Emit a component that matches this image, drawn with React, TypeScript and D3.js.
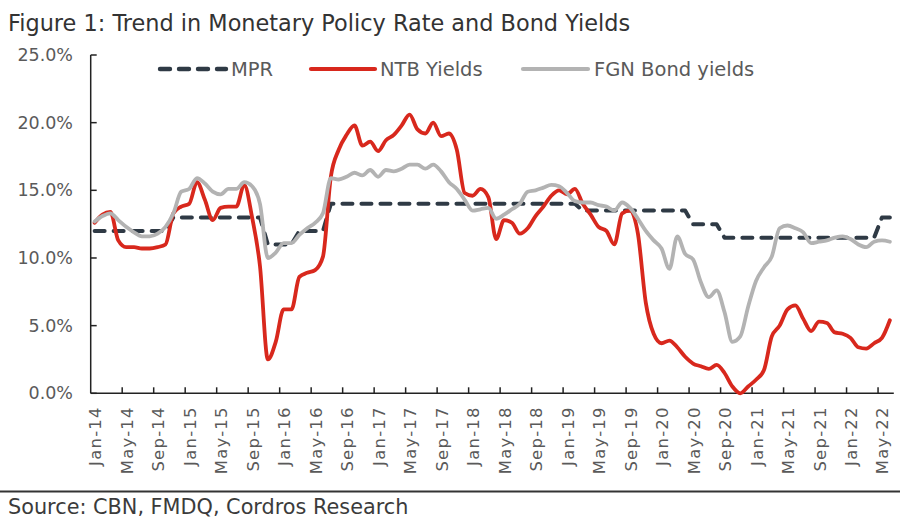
import React from "react";
import * as d3 from "d3";

// monthly observations, Jan-14 .. Jun-22
const months = d3.timeMonth.range(new Date(2014, 0, 1), new Date(2022, 6, 1));

const mpr = [
  12, 12, 12, 12, 12, 12, 12, 12, 12, 12,
  13, 13, 13, 13, 13, 13, 13, 13, 13, 13, 13, 13,
  11, 11, 11, 11,
  12, 12, 12, 12,
  14, 14, 14, 14, 14, 14, 14, 14, 14, 14, 14, 14, 14, 14, 14, 14,
  14, 14, 14, 14, 14, 14, 14, 14, 14, 14, 14, 14, 14, 14, 14, 14,
  13.5, 13.5, 13.5, 13.5, 13.5, 13.5, 13.5, 13.5, 13.5, 13.5, 13.5, 13.5, 13.5, 13.5,
  12.5, 12.5, 12.5, 12.5,
  11.5, 11.5, 11.5, 11.5, 11.5, 11.5, 11.5, 11.5, 11.5, 11.5,
  11.5, 11.5, 11.5, 11.5, 11.5, 11.5, 11.5, 11.5, 11.5, 11.5,
  13, 13,
];

const ntb = [
  12.6, 13.2, 13.4, 11.3, 10.8, 10.8, 10.7, 10.7, 10.8, 11.0,
  13.3, 13.8, 14.0, 15.6, 14.3, 12.8, 13.7, 13.8, 13.8, 15.4,
  13.0, 9.4, 2.5, 3.8, 6.2, 6.2, 8.6, 8.9, 9.1, 10.1,
  16.0, 18.0, 19.1, 19.8, 18.3, 18.6, 17.9, 18.7, 19.1, 19.8,
  20.6, 19.5, 19.2, 20.0, 19.0, 19.2, 18.0, 14.8, 14.6, 15.1,
  14.5, 11.4, 12.8, 12.6, 11.8, 12.2, 13.1, 13.8, 14.6, 15.0,
  14.7, 15.1, 14.0, 13.2, 12.3, 12.0, 11.0, 13.3, 13.5, 11.8,
  6.7, 4.4, 3.7, 3.9, 3.4, 2.7, 2.2, 2.0, 1.8, 2.1,
  1.5, 0.5, 0.0, 0.5, 1.0, 1.7, 4.2, 5.0, 6.2, 6.5,
  5.5, 4.6, 5.3, 5.2, 4.5, 4.4, 4.1, 3.4, 3.3, 3.7,
  4.1, 5.4,
];

const fgn = [
  12.7, 13.1, 13.3, 12.8, 12.3, 11.9, 11.6, 11.6, 11.8, 12.3,
  13.3, 14.9, 15.1, 15.9, 15.5, 14.9, 14.7, 15.1, 15.1, 15.6,
  15.3, 14.0, 10.0, 10.4, 11.1, 11.1, 11.7, 12.2, 12.6, 13.3,
  15.9, 15.8, 16.0, 16.3, 16.1, 16.5, 16.0, 16.5, 16.4, 16.6,
  16.9, 16.9, 16.6, 16.9, 16.4, 15.6, 15.1, 14.3, 13.5, 13.6,
  13.7, 12.9, 13.2, 13.6, 14.0, 14.9, 15.0, 15.2, 15.4, 15.3,
  14.8, 14.2, 14.1, 14.1, 13.9, 13.8, 13.5, 14.1, 13.7, 12.9,
  12.0, 11.3, 10.7, 9.2, 11.6, 10.3, 9.9, 8.2, 7.1, 7.6,
  6.0, 3.8, 4.2, 6.4, 8.3, 9.3, 10.1, 12.2, 12.4, 12.2,
  11.9, 11.1, 11.2, 11.3, 11.5, 11.6, 11.4, 11.0, 10.8, 11.2,
  11.3, 11.2,
];

const yTicks = [0, 5, 10, 15, 20, 25];

const series = [
  { name: "MPR", values: mpr, color: "#2f3a45", width: 4, dash: "10,9", smooth: false },
  { name: "NTB Yields", values: ntb, color: "#d8281d", width: 3.8, dash: null, smooth: true },
  { name: "FGN Bond yields", values: fgn, color: "#b3b3b3", width: 3.8, dash: null, smooth: true },
];

const FONT = "'DejaVu Sans', sans-serif";

export default function App() {
  const width = 900;
  const height = 524;
  const left = 90.7;
  const right = 893.8;
  const top = 55;
  const bottom = 393.3;

  const x = d3
    .scaleBand<number>()
    .domain(d3.range(months.length))
    .range([left, right]);
  const cx = (i: number) => x(i)! + x.bandwidth() / 2;

  const y = d3.scaleLinear().domain([0, 25]).range([bottom, top]);

  const line = (smooth: boolean) =>
    d3
      .line<number>()
      .x((_, i) => cx(i))
      .y((d) => y(d))
      .curve(smooth ? d3.curveMonotoneX : d3.curveLinear);

  const fmt = d3.timeFormat("%b-%y");
  const labelIdx = d3.range(0, months.length, 4);
  const tickIdx = d3.range(4, months.length, 4);

  // legend placement
  const legend = [
    { x0: 160, x1: 226, tx: 231 },
    { x0: 311, x1: 375, tx: 380 },
    { x0: 523, x1: 588, tx: 594 },
  ];

  return (
    <svg
      width={width}
      height={height}
      style={{ position: "fixed", left: 0, top: 0, background: "#fff" }}
      fontFamily={FONT}
    >
      <text x={8} y={31} fontSize={22.4} fill="#333">
        Figure 1: Trend in Monetary Policy Rate and Bond Yields
      </text>

      {/* y axis */}
      <line x1={left} x2={left} y1={top} y2={bottom} stroke="#222" strokeWidth={1.5} />
      {yTicks.map((t) => (
        <g key={t}>
          <line x1={left} x2={left + 6} y1={y(t)} y2={y(t)} stroke="#222" strokeWidth={1.5} />
          <text
            x={73}
            y={y(t)}
            textAnchor="end"
            dominantBaseline="central"
            fontSize={17.5}
            fill="#5a5a5a"
          >
            {t.toFixed(1) + "%"}
          </text>
        </g>
      ))}

      {/* x axis */}
      <line x1={left} x2={right} y1={bottom} y2={bottom} stroke="#222" strokeWidth={1.5} />
      {tickIdx.map((i) => (
        <line
          key={i}
          x1={x(i)}
          x2={x(i)}
          y1={bottom}
          y2={bottom - 6}
          stroke="#222"
          strokeWidth={1.5}
        />
      ))}
      {labelIdx.map((i) => (
        <text
          key={i}
          transform={`translate(${cx(i) + 1},${bottom + 13}) rotate(-90)`}
          textAnchor="end"
          dominantBaseline="central"
          fontSize={16.5}
          letterSpacing={1.2}
          fill="#5a5a5a"
        >
          {fmt(months[i])}
        </text>
      ))}

      {/* series */}
      {series.map((s) => (
        <path
          key={s.name}
          d={line(s.smooth)(s.values)!}
          fill="none"
          stroke={s.color}
          strokeWidth={s.width}
          strokeDasharray={s.dash ?? undefined}
          strokeLinejoin="round"
          strokeLinecap="round"
        />
      ))}

      {/* legend */}
      {series.map((s, k) => (
        <g key={s.name}>
          <line
            x1={legend[k].x0}
            x2={legend[k].x1}
            y1={69}
            y2={69}
            stroke={s.color}
            strokeWidth={s.width + 0.4}
            strokeDasharray={s.dash ?? undefined}
            strokeLinecap="round"
          />
          <text
            x={legend[k].tx}
            y={69}
            dominantBaseline="central"
            fontSize={19.5}
            fill="#5a5a5a"
          >
            {s.name}
          </text>
        </g>
      ))}

      {/* source */}
      <line x1={0} x2={width} y1={491.5} y2={491.5} stroke="#333" strokeWidth={2} />
      <text x={8} y={514} fontSize={20.8} fill="#3b3b3b">
        Source: CBN, FMDQ, Cordros Research
      </text>
    </svg>
  );
}
